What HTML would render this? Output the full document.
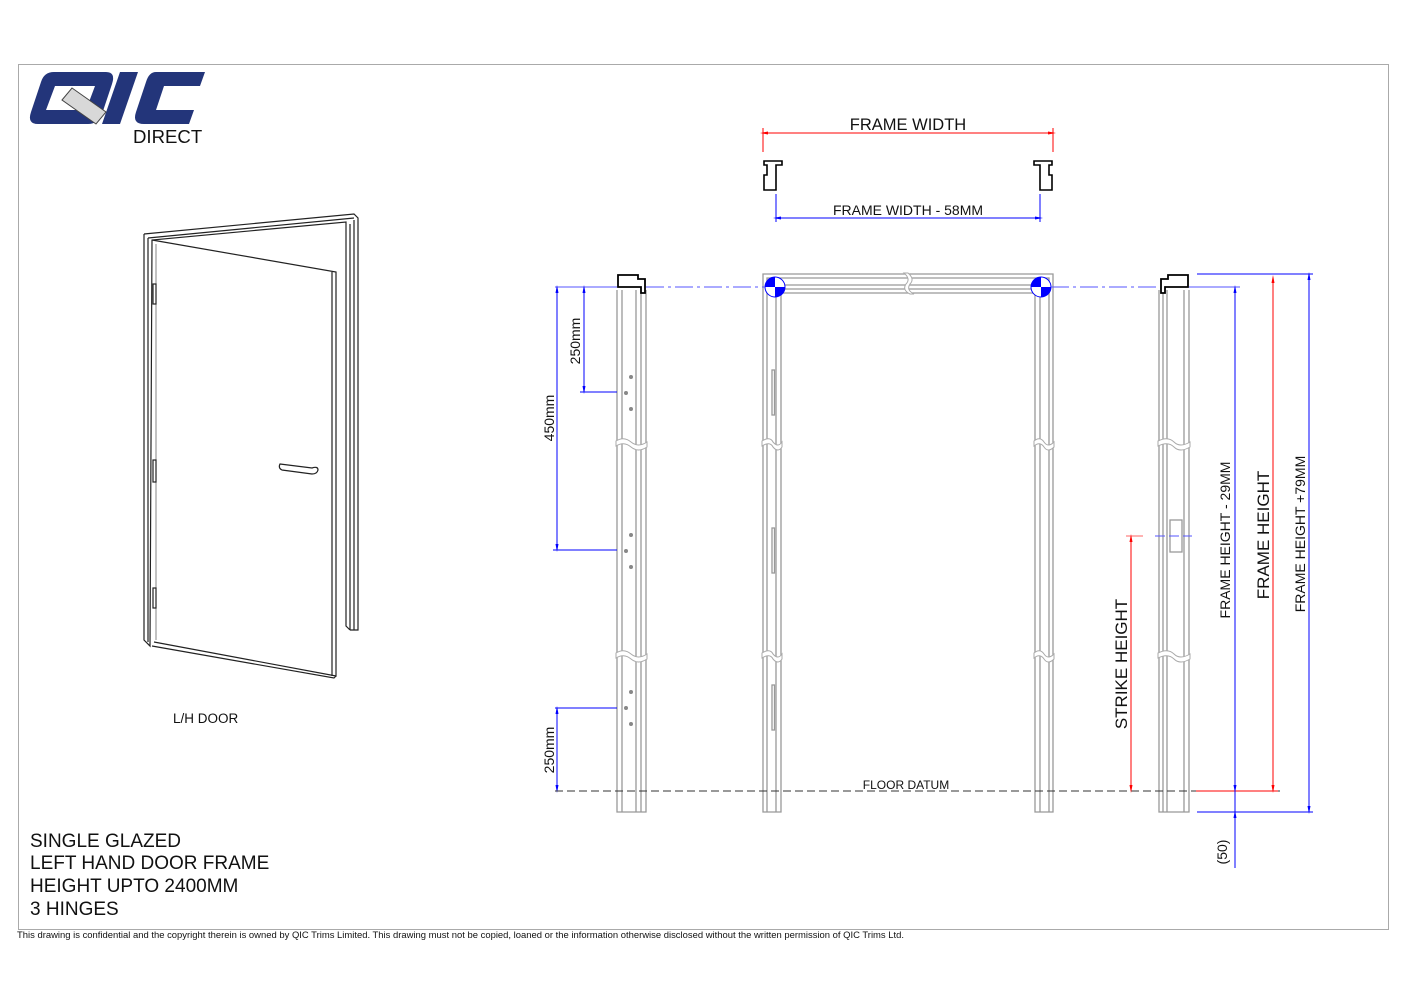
<!DOCTYPE html>
<html><head><meta charset="utf-8"><style>
html,body{margin:0;padding:0;background:#fff;}
svg{display:block;font-family:"Liberation Sans",Arial,sans-serif;}
</style></head><body>
<svg width="1415" height="1000" viewBox="0 0 1415 1000" xmlns="http://www.w3.org/2000/svg">
<defs>
<marker id="ab" markerWidth="8" markerHeight="8" refX="4" refY="4" orient="auto"><path d="M0,2.5 L8,4 L0,5.5z" fill="#0000ff"/></marker>
<marker id="ar" markerWidth="8" markerHeight="8" refX="4" refY="4" orient="auto"><path d="M0,2.5 L8,4 L0,5.5z" fill="#ff0000"/></marker>
<marker id="abs" markerWidth="8" markerHeight="8" refX="4" refY="4" orient="auto-start-reverse"><path d="M0,2.5 L8,4 L0,5.5z" fill="#0000ff"/></marker>
<marker id="ars" markerWidth="8" markerHeight="8" refX="4" refY="4" orient="auto-start-reverse"><path d="M0,2.5 L8,4 L0,5.5z" fill="#ff0000"/></marker>
</defs>
<rect x="18.5" y="64.5" width="1370" height="865" fill="none" stroke="#aaa" stroke-width="1"/>

<!-- logo -->
<g>
<path d="M44,72 L106,72 Q116,72 112,84 L102,114 Q98,124 88,124 L38,124 Q27,124 31,112 L41,82 Q44,72 54,72z M55,86 L46,110 L86,110 L95,86z" fill="#23357a" fill-rule="evenodd"/>
<path d="M120,72 L138,72 L120,124 L102,124z" fill="#23357a"/>
<path d="M156,72 L205,72 L200,86 L164,86 L156,110 L194,110 L189,124 L144,124 Q132,124 136,112 L146,82 Q149,72 156,72z" fill="#23357a"/>
<path d="M62,100 L72,88 L106,112 L96,124z" fill="#d8d8d8" stroke="#444" stroke-width="1"/>
<text x="133" y="143" font-size="18.6" fill="#111">DIRECT</text>
</g>

<!-- perspective door -->
<g fill="none" stroke="#222" stroke-width="1.2">
<path d="M144,234 L354,214 L358,218 L358,630 L350,630"/>
<path d="M144,234 L144,640 L150,646 L152,240 L346,222 L346,626 L350,630"/>
<path d="M148,238 L354,218 M148,238 L148,642"/>
<path d="M350,224 L350,630 M354,220 L354,630"/>
<path d="M152,240 L336,272 L336,676 L154,642"/>
<path d="M332,272 L332,676 M336,676 L334,678 L152,646"/>
<path d="M156,244 L156,640" stroke="#666" stroke-width="0.8"/>
<rect x="153" y="284" width="3" height="20"/>
<rect x="153" y="460" width="3" height="22"/>
<rect x="153" y="588" width="3" height="20"/>
<path d="M280,464 L312,468 Q318,466 318,470 Q317,474 312,474 L282,470 Q278,468 280,464z"/>
</g>
<text x="173" y="723" font-size="13.5" fill="#111">L/H DOOR</text>

<!-- top section -->
<line x1="764" y1="133" x2="1052" y2="133" stroke="#f00" marker-start="url(#ars)" marker-end="url(#ar)"/>
<line x1="763" y1="128" x2="763" y2="152" stroke="#f00"/>
<line x1="1053" y1="128" x2="1053" y2="152" stroke="#f00"/>
<text x="908" y="130" font-size="16.5" text-anchor="middle" fill="#111">FRAME WIDTH</text>
<g fill="none" stroke="#000" stroke-width="1.6">
<path d="M764,161 L782,161 L782,165 L776,165 L776,190 L764,190 L764,175 L767,175 L767,165 L764,165z"/>
<path d="M1052,161 L1034,161 L1034,165 L1040,165 L1040,190 L1052,190 L1052,175 L1049,175 L1049,165 L1052,165z"/>
</g>
<line x1="776" y1="194" x2="776" y2="222" stroke="#00f"/>
<line x1="1040" y1="194" x2="1040" y2="222" stroke="#00f"/>
<line x1="777" y1="218" x2="1039" y2="218" stroke="#00f" marker-start="url(#abs)" marker-end="url(#ab)"/>
<text x="908" y="215" font-size="14" text-anchor="middle" fill="#111">FRAME WIDTH - 58MM</text>

<!-- jamb lines -->
<g fill="none" stroke="#999" stroke-width="1.3">
<path d="M617,290 V812 H646 V290"/>
<path d="M622,290 V812 M636,290 V812 M641,290 V812"/>
<path d="M1159,290 V812 H1189 V290"/>
<path d="M1163,290 V812 M1167,290 V812 M1184,290 V812"/>
<path d="M763,812 V274 H1053 V812 H1035 V293 H781 V812z"/>
<path d="M767,812 V278 H1049 V812 M776,812 V293 M1040,812 V293"/>
<path d="M781,289 H1035 M781,285 H1035"/>
<rect x="772" y="370" width="2.5" height="45"/>
<rect x="772" y="528" width="2.5" height="45"/>
<rect x="772" y="685" width="2.5" height="45"/>
<rect x="1170" y="520" width="12" height="32"/>
</g>
<!-- breaks -->
<g fill="#fff" stroke="#aaa" stroke-width="1">
<path d="M616,441 Q624,436 631,442 Q638,448 647,442 V447 Q638,453 631,447 Q624,441 616,446z"/>
<path d="M616,653 Q624,648 631,654 Q638,660 647,654 V659 Q638,665 631,659 Q624,653 616,658z"/>
<path d="M762,441 Q770,436 773,442 Q778,448 782,442 V447 Q778,453 773,447 Q770,441 762,446z"/>
<path d="M762,653 Q770,648 773,654 Q778,660 782,654 V659 Q778,665 773,659 Q770,653 762,658z"/>
<path d="M1034,441 Q1040,436 1044,442 Q1048,448 1054,442 V447 Q1048,453 1044,447 Q1040,441 1034,446z"/>
<path d="M1034,653 Q1040,648 1044,654 Q1048,660 1054,654 V659 Q1048,665 1044,659 Q1040,653 1034,658z"/>
<path d="M1158,441 Q1168,436 1174,442 Q1180,448 1190,442 V447 Q1180,453 1174,447 Q1168,441 1158,446z"/>
<path d="M1158,653 Q1168,648 1174,654 Q1180,660 1190,654 V659 Q1180,665 1174,659 Q1168,653 1158,658z"/>
<path d="M904,273 Q911,279 906,284 Q902,290 910,294 H914 Q906,290 910,284 Q915,279 908,273z"/>
</g>
<!-- hinge crosses -->
<g fill="#888">
<circle cx="631" cy="377" r="2"/><circle cx="626" cy="393" r="2"/><circle cx="631" cy="409" r="2"/>
<circle cx="631" cy="535" r="2"/><circle cx="626" cy="551" r="2"/><circle cx="631" cy="567" r="2"/>
<circle cx="631" cy="692" r="2"/><circle cx="626" cy="708" r="2"/><circle cx="631" cy="724" r="2"/>
</g>
<!-- jamb profiles top -->
<g fill="#fff" stroke="#000" stroke-width="1.8">
<path d="M618,275 L638,275 L638,279 L645,279 L645,293 L641,293 L641,287 L618,287z"/>
<path d="M1188,275 L1168,275 L1168,279 L1161,279 L1161,293 L1165,293 L1165,287 L1188,287z"/>
</g>
<!-- datum circles -->
<g>
<circle cx="775" cy="287" r="10" fill="#fff" stroke="#00f"/>
<path d="M775,287 V277 A10,10 0 0,0 765,287z M775,287 H785 A10,10 0 0,1 775,297z" fill="#00f"/>
<circle cx="1041" cy="287" r="10" fill="#fff" stroke="#00f"/>
<path d="M1041,287 V277 A10,10 0 0,0 1031,287z M1041,287 H1051 A10,10 0 0,1 1041,297z" fill="#00f"/>
</g>
<!-- centre line -->
<line x1="555" y1="287" x2="617" y2="287" stroke="#55f"/>
<line x1="646" y1="287" x2="765" y2="287" stroke="#55f" stroke-dasharray="18,4,3,4"/>
<line x1="1051" y1="287" x2="1160" y2="287" stroke="#55f" stroke-dasharray="18,4,3,4"/>
<line x1="1189" y1="287" x2="1240" y2="287" stroke="#55f"/>

<!-- left dims -->
<g stroke="#00f" fill="none">
<line x1="580" y1="392" x2="617" y2="392"/>
<line x1="584" y1="289" x2="584" y2="390" marker-start="url(#abs)" marker-end="url(#ab)"/>
<line x1="553" y1="550" x2="617" y2="550"/>
<line x1="557" y1="289" x2="557" y2="548" marker-start="url(#abs)" marker-end="url(#ab)"/>
<line x1="555" y1="708" x2="617" y2="708"/>
<line x1="557" y1="710" x2="557" y2="789" marker-start="url(#abs)" marker-end="url(#ab)"/>
</g>
<g font-size="14" fill="#111">
<text transform="translate(580,341) rotate(-90)" text-anchor="middle">250mm</text>
<text transform="translate(554,418) rotate(-90)" text-anchor="middle">450mm</text>
<text transform="translate(554,750) rotate(-90)" text-anchor="middle">250mm</text>
</g>
<!-- floor datum -->
<line x1="555" y1="791" x2="1280" y2="791" stroke="#333" stroke-dasharray="8,4"/>
<text x="906" y="789" font-size="12" text-anchor="middle" fill="#111">FLOOR DATUM</text>

<!-- right dims -->
<line x1="1126" y1="536" x2="1143" y2="536" stroke="#f66"/>
<line x1="1155" y1="536" x2="1192" y2="536" stroke="#55f" stroke-dasharray="10,4"/>
<line x1="1131" y1="538" x2="1131" y2="789" stroke="#f00" marker-start="url(#ars)" marker-end="url(#ar)"/>
<line x1="1197" y1="274" x2="1313" y2="274" stroke="#00f"/>
<line x1="1197" y1="812" x2="1313" y2="812" stroke="#00f"/>
<line x1="1196" y1="791" x2="1278" y2="791" stroke="#f00"/>
<line x1="1235" y1="289" x2="1235" y2="789" stroke="#00f" marker-start="url(#abs)" marker-end="url(#ab)"/>
<line x1="1235" y1="789" x2="1235" y2="868" stroke="#00f"/>
<line x1="1235" y1="814" x2="1235" y2="822" stroke="#00f" marker-start="url(#abs)"/>
<line x1="1273" y1="279" x2="1273" y2="789" stroke="#f00" marker-start="url(#ars)" marker-end="url(#ar)"/>
<line x1="1309" y1="276" x2="1309" y2="810" stroke="#00f" marker-start="url(#abs)" marker-end="url(#ab)"/>
<g fill="#111">
<text transform="translate(1127,664) rotate(-90)" text-anchor="middle" font-size="17">STRIKE HEIGHT</text>
<text transform="translate(1230,540) rotate(-90)" text-anchor="middle" font-size="14">FRAME HEIGHT - 29MM</text>
<text transform="translate(1269,535) rotate(-90)" text-anchor="middle" font-size="17">FRAME HEIGHT</text>
<text transform="translate(1305,534) rotate(-90)" text-anchor="middle" font-size="14">FRAME HEIGHT +79MM</text>
<text transform="translate(1227,852) rotate(-90)" text-anchor="middle" font-size="14">(50)</text>
</g>

<!-- notes -->
<g font-size="19" fill="#111">
<text x="30" y="847">SINGLE GLAZED</text>
<text x="30" y="869">LEFT HAND DOOR FRAME</text>
<text x="30" y="892">HEIGHT UPTO 2400MM</text>
<text x="30" y="915">3 HINGES</text>
</g>
<text x="17" y="938" font-size="9" textLength="887" lengthAdjust="spacingAndGlyphs" fill="#111">This drawing is confidential and the copyright therein is owned by QIC Trims Limited.  This drawing must not be copied, loaned or the information otherwise disclosed without the written permission of QIC Trims Ltd.</text>
</svg>
</body></html>
